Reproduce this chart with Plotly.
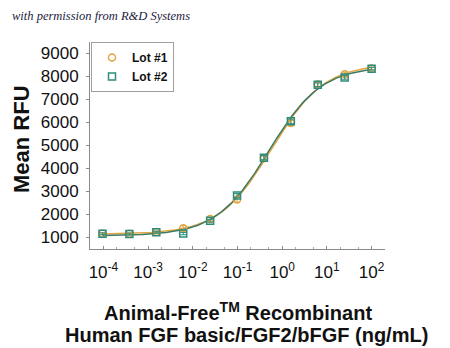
import numpy as np
import plotly.graph_objects as go

# Data (ng/mL), 1:4 serial dilution from 100 ng/mL
conc = [100 / 4**k for k in range(10, -1, -1)]
lot1 = [1170, 1160, 1240, 1400, 1800, 2650, 4450, 5980, 7650, 8100, 8350]
lot1_err = [40, 40, 50, 110, 80, 110, 90, 120, 80, 90, 60]
lot2 = [1160, 1150, 1230, 1170, 1730, 2830, 4470, 6050, 7640, 7960, 8340]
lot2_err = [40, 40, 40, 50, 60, 80, 90, 100, 80, 80, 60]

xtick_vals = [1e-4, 1e-3, 1e-2, 1e-1, 1e0, 1e1, 1e2]
xtick_text = ["10<sup>-4</sup>", "10<sup>-3</sup>", "10<sup>-2</sup>", "10<sup>-1</sup>",
              "10<sup>0</sup>", "10<sup>1</sup>", "10<sup>2</sup>"]
ytick_vals = [1000, 2000, 3000, 4000, 5000, 6000, 7000, 8000, 9000]

C1 = "#E3A542"
C2 = "#2E8C7C"
LINE2 = "#3D7A62"

# plot area in pixels: x 90..385, y 42..249
PL, PR, PT, PB = 90, 385, 42, 249


def px(x):
    return (x - PL) / (PR - PL)


def py(y):
    return (PB - y) / (PB - PT)


def fit4pl(x, y):
    lx = np.log10(np.array(x))
    y = np.array(y, dtype=float)
    best = None
    for ec in np.linspace(-1.0, 0.3, 66):
        for h in np.linspace(0.5, 1.3, 41):
            s = 1.0 / (1.0 + 10 ** ((ec - lx) * h))
            A = np.vstack([np.ones_like(s), s]).T
            coef, *_ = np.linalg.lstsq(A, y, rcond=None)
            r = np.sum((A @ coef - y) ** 2)
            if best is None or r < best[0]:
                best = (r, coef[0], coef[1], ec, h)
    _, b, span, ec, h = best
    xs = np.logspace(np.log10(min(x)), np.log10(max(x)), 200)
    ys = b + span / (1.0 + 10 ** ((ec - np.log10(xs)) * h))
    return xs, ys


fig = go.Figure()
xs1, ys1 = fit4pl(conc, lot1)
xs2, ys2 = fit4pl(conc, lot2)
fig.add_trace(go.Scatter(x=xs1, y=ys1, mode="lines", line=dict(color=C1, width=1.5),
                         showlegend=False, hoverinfo="skip"))
fig.add_trace(go.Scatter(x=xs2, y=ys2, mode="lines", line=dict(color=LINE2, width=1.5),
                         showlegend=False, hoverinfo="skip"))
fig.add_trace(go.Scatter(x=conc, y=lot1, mode="markers", name="<b>Lot #1</b>",
                         marker=dict(symbol="circle-open", size=7, color=C1, line=dict(width=1.5)),
                         error_y=dict(type="data", array=lot1_err, color=C1, thickness=1, width=3)))
fig.add_trace(go.Scatter(x=conc, y=lot2, mode="markers", name="<b>Lot #2</b>",
                         marker=dict(symbol="square-open", size=7, color=C2, line=dict(width=1.5)),
                         error_y=dict(type="data", array=lot2_err, color=C2, thickness=1, width=3)))

fig.update_layout(
    width=450, height=348,
    margin=dict(l=PL, r=450 - PR, t=PT, b=348 - PB),
    paper_bgcolor="white", plot_bgcolor="white",
    font=dict(family="Liberation Sans, Arial, sans-serif", color="#111"),
    legend=dict(x=px(91), y=py(42), xanchor="left", yanchor="top",
                bordercolor="#a0a0a0", borderwidth=1, bgcolor="white",
                font=dict(size=12, family="Liberation Sans, Arial, sans-serif", color="#111"),
                itemwidth=30, tracegroupgap=0),
)
fig.add_annotation(text="<i>with permission from R&D Systems</i>",
                   xref="paper", yref="paper", x=px(10), y=py(16),
                   xanchor="left", yanchor="middle", showarrow=False,
                   font=dict(family="Liberation Serif, serif", size=12.5, color="#1b1b40"))
fig.add_annotation(text="<b>Animal-Free<sup>TM</sup> Recombinant</b>",
                   xref="paper", yref="paper", x=px(238), y=py(311),
                   xanchor="center", yanchor="middle", showarrow=False,
                   font=dict(size=20, color="#111"))
fig.add_annotation(text="<b>Human FGF basic/FGF2/bFGF (ng/mL)</b>",
                   xref="paper", yref="paper", x=px(246), y=py(335),
                   xanchor="center", yanchor="middle", showarrow=False,
                   font=dict(size=20, color="#111"))
fig.add_annotation(text="<b>Mean RFU</b>",
                   xref="paper", yref="paper", x=px(21), y=py(139), textangle=-90,
                   xanchor="center", yanchor="middle", showarrow=False,
                   font=dict(size=22, color="#111"))

fig.update_xaxes(type="log", range=[-4.3, 2.3], tickvals=xtick_vals, ticktext=xtick_text,
                 showgrid=False, zeroline=False, showline=True, linecolor="#8a8a8a",
                 ticks="inside", ticklen=3, tickcolor="#8a8a8a", ticklabelstandoff=8,
                 minor=dict(ticks="inside", ticklen=2, tickcolor="#aaaaaa", showgrid=False),
                 tickfont=dict(size=17, color="#111"))
fig.update_yaxes(range=[500, 9500], tickvals=ytick_vals,
                 showgrid=False, zeroline=False, showline=True, linecolor="#8a8a8a",
                 ticks="outside", ticklen=3, tickcolor="#8a8a8a", ticklabelstandoff=4,
                 tickfont=dict(size=17, color="#111"))

fig.write_html("out.html")
